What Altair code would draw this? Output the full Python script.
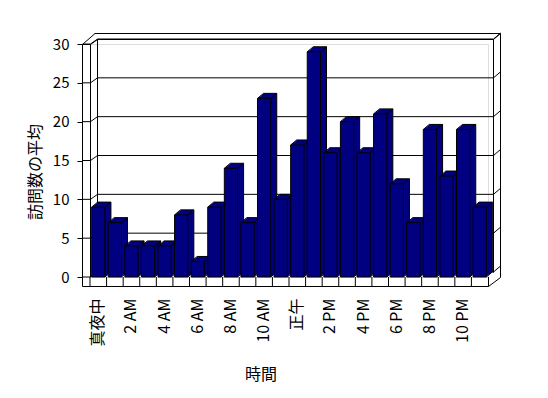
import altair as alt
import pandas as pd

hours = ["真夜中", "1 AM", "2 AM", "3 AM", "4 AM", "5 AM", "6 AM", "7 AM", "8 AM", "9 AM",
         "10 AM", "11 AM", "正午", "1 PM", "2 PM", "3 PM", "4 PM", "5 PM", "6 PM", "7 PM",
         "8 PM", "9 PM", "10 PM", "11 PM"]
visits = [9, 7, 4, 4, 4, 8, 2, 9, 14, 7, 23, 10, 17, 29, 16, 20, 16, 21, 12, 7, 19, 13, 19, 9]
label_hours = hours[::2]
y_ticks = [0, 5, 10, 15, 20, 25, 30]
x_title = "時間"
y_title = "訪問数の平均"

df = pd.DataFrame({"hour": hours, "v": visits})
grid = pd.DataFrame({"g": y_ticks})
one = pd.DataFrame({"a": [0]})

W, H = 398, 233
DX, DY = 6, -5
NAVY = "#000080"
FONT = "Noto Sans CJK JP"

xs = alt.Scale(domain=hours, paddingInner=0.2, paddingOuter=0.1)
ys = alt.Scale(domain=[0, 30], nice=False)


def seg(x1, y1, x2, y2):
    return alt.Chart(one).mark_rule(color="black", strokeWidth=1).encode(
        x=alt.value(x1), y=alt.value(y1), x2=alt.value(x2), y2=alt.value(y2))


# frame (walls + floor)
frame = [
    # back wall inner face
    seg(7.5, -4.5, 403.5, -4.5), seg(7.5, -4.5, 7.5, 228.5), seg(403.5, -4.5, 403.5, 228.5),
    # back wall outer
    seg(5, -10.5, 410.5, -10.5), seg(410.5, -10.5, 410.5, 233.5), seg(403.5, -4.5, 410.5, -10.5),
    # left wall
    seg(-7.5, 0.5, -7.5, 242.5), seg(0.5, 0.5, 0.5, 233), seg(-7.5, 0.5, 0.5, 0.5),
    seg(-7.5, 0.5, 5, -10.5), seg(0.5, 0.5, 7.5, -4.5),
    # floor
    seg(-7.5, 242.5, 398.5, 242.5), seg(398.5, 242.5, 410.5, 233.5), seg(398.5, 233, 398.5, 242.5),
]

grid_back = alt.Chart(grid).mark_rule(color="black", yOffset=DY).encode(
    y=alt.Y("g:Q", scale=ys, axis=alt.Axis(values=y_ticks, offset=8, tickSize=5, domain=False,
                                           grid=False, labelPadding=8, labelFontSize=15,
                                           labelFont=FONT, title=None, labelColor="black",
                                           tickColor="black")),
    x=alt.value(7.5), x2=alt.value(403.5))
grid_left = alt.Chart(grid).mark_rule(color="black", y2Offset=DY).encode(
    y=alt.Y("g:Q", scale=ys, axis=None), y2=alt.Y2("g:Q"),
    x=alt.value(0.5), x2=alt.value(7.5))
grid_wall = alt.Chart(grid).mark_rule(color="black").encode(
    y=alt.Y("g:Q", scale=ys, axis=None), x=alt.value(-7.5), x2=alt.value(0.5))
grid_right = alt.Chart(grid).mark_rule(color="black", yOffset=DY, y2Offset=DY - 6).encode(
    y=alt.Y("g:Q", scale=ys, axis=None), y2=alt.Y2("g:Q"),
    x=alt.value(403.5), x2=alt.value(410.5))

# extrusion of each bar (several shifted copies fill the top and side faces)
steps = 8
backs = []
for k in range(1, steps + 1):
    ox, oy = DX * k / steps, DY * k / steps
    backs.append(alt.Chart(df).mark_bar(color=NAVY, strokeWidth=0, xOffset=ox, x2Offset=ox,
                                        yOffset=oy, y2Offset=oy).encode(
        x=alt.X("hour:N", scale=xs, axis=None, sort=hours),
        y=alt.Y("v:Q", scale=ys, axis=None)))

top_back = alt.Chart(df).mark_rule(color="black", xOffset=DX, x2Offset=DX, yOffset=DY).encode(
    x=alt.X("hour:N", scale=xs, axis=None, bandPosition=0, sort=hours),
    x2=alt.X2("hour:N", bandPosition=1),
    y=alt.Y("v:Q", scale=ys, axis=None))
right_back = alt.Chart(df).mark_rule(color="black", xOffset=DX, x2Offset=DX,
                                     yOffset=DY, y2Offset=DY).encode(
    x=alt.X("hour:N", scale=xs, axis=None, bandPosition=1, sort=hours),
    x2=alt.X2("hour:N", bandPosition=1),
    y=alt.Y("v:Q", scale=ys, axis=None), y2=alt.value(H))
diag_tl = alt.Chart(df).mark_rule(color="black", x2Offset=DX, y2Offset=DY).encode(
    x=alt.X("hour:N", scale=xs, axis=None, bandPosition=0, sort=hours),
    x2=alt.X2("hour:N", bandPosition=0),
    y=alt.Y("v:Q", scale=ys, axis=None), y2=alt.Y2("v:Q"))
diag_tr = alt.Chart(df).mark_rule(color="black", x2Offset=DX, y2Offset=DY).encode(
    x=alt.X("hour:N", scale=xs, axis=None, bandPosition=1, sort=hours),
    x2=alt.X2("hour:N", bandPosition=1),
    y=alt.Y("v:Q", scale=ys, axis=None), y2=alt.Y2("v:Q"))
diag_br = alt.Chart(df).mark_rule(color="black", x2Offset=DX, y2Offset=DY).encode(
    x=alt.X("hour:N", scale=xs, axis=None, bandPosition=1, sort=hours),
    x2=alt.X2("hour:N", bandPosition=1),
    y=alt.value(H), y2=alt.value(H))

front = alt.Chart(df).mark_bar(color=NAVY, stroke="black", strokeWidth=1).encode(
    x=alt.X("hour:N", scale=xs, sort=hours,
            axis=alt.Axis(values=label_hours, labelAngle=-90, ticks=False, domain=False,
                          labelPadding=21, title=None, labelFontSize=16, labelFont=FONT,
                          labelColor="black", labelAlign="right", labelBaseline="middle")),
    y=alt.Y("v:Q", scale=ys, axis=None))

dividers = alt.Chart(df).mark_rule(color="black", xOffset=-1.66).encode(
    x=alt.X("hour:N", scale=xs, axis=None, bandPosition=0, sort=hours),
    y=alt.value(H), y2=alt.value(242.5))

xt = alt.Chart(one).mark_text(text=x_title, font=FONT, fontSize=16, color="black",
                              baseline="middle", align="center").encode(
    x=alt.value(171), y=alt.value(331))
yt = alt.Chart(one).mark_text(text=y_title, font=FONT, fontSize=16, color="black",
                              baseline="middle", align="center", angle=270).encode(
    x=alt.value(-54), y=alt.value(128))

chart = alt.layer(
    *frame, grid_back, grid_left, grid_wall, grid_right,
    *backs, top_back, right_back, diag_tl, diag_tr, diag_br, front, dividers, xt, yt
).resolve_scale(x="shared", y="shared").resolve_axis(x="independent", y="independent").properties(
    width=W, height=H, autosize=alt.AutoSizeParams(type="none"),
    padding={"left": 82, "top": 36, "right": 52, "bottom": 113}
).configure_view(stroke=None).configure(background="white")

chart.save("out.html", embed_options={"renderer": "svg", "actions": False})
